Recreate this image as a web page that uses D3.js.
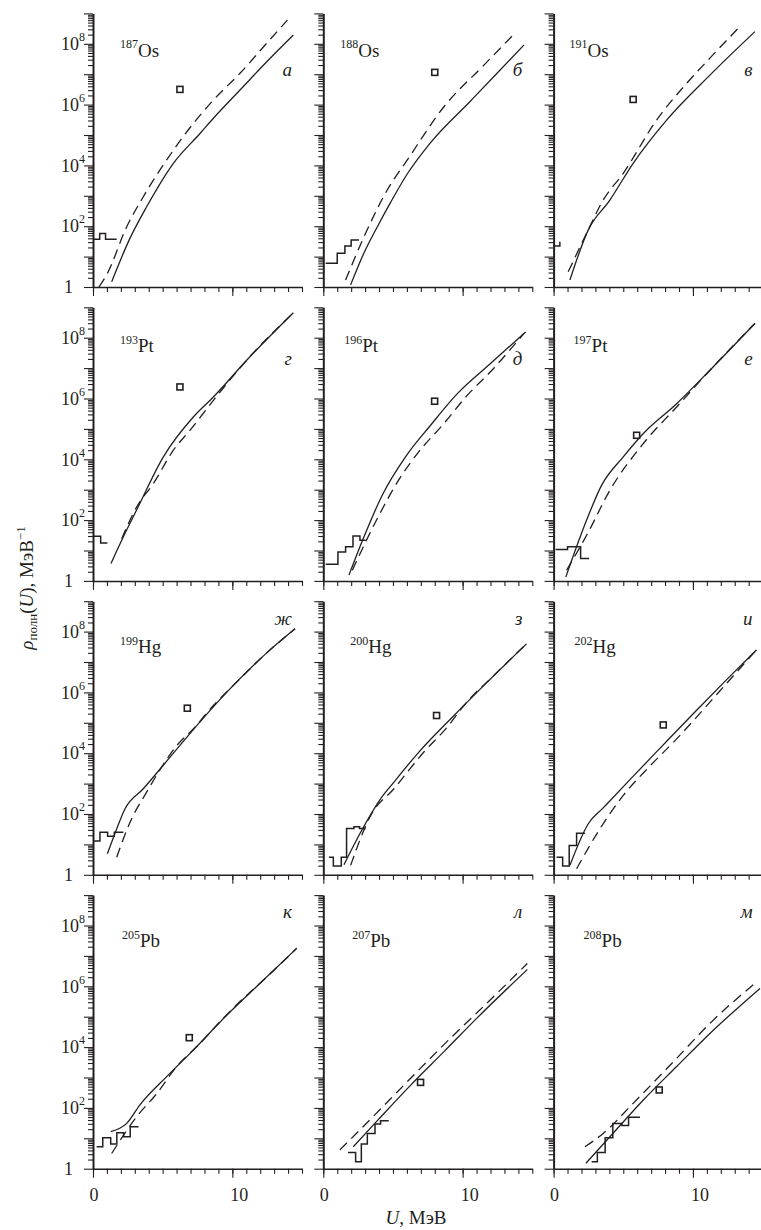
<!DOCTYPE html>
<html><head><meta charset="utf-8">
<script src="https://cdn.jsdelivr.net/npm/d3@7"></script>
<style>
body{margin:0;background:#fff}
text{font-family:"Liberation Serif","Times New Roman",serif;fill:#231f20}
</style>
</head><body>
<svg id="c" width="761" height="1230"></svg>
<script>
// ---------- data (U in MeV, values as log10 of rho) ----------
const panelLetters = ['а','б','в','г','д','е','ж','з','и','к','л','м'];
const massNumbers  = ['187','188','191','193','196','197','199','200','202','205','207','208'];
const elements     = ['Os','Os','Os','Pt','Pt','Pt','Hg','Hg','Hg','Pb','Pb','Pb'];

const solidOs187 = [[1.34,0.17],[2.6,1.55],[3.85,2.64],[5.77,4.07],[7.68,5.05],[8.64,5.55],[10.55,6.48],[12.47,7.41],[14.38,8.29]];
const dashOs187  = [[0.43,0],[0.98,0.4],[2.42,1.98],[3.61,2.97],[5.77,4.5],[7.2,5.38],[8.64,6.15],[10.55,7.03],[12.47,8.02],[13.95,8.78]];
const stepOs187  = [[0,1.57],[0.48,1.76],[0.9,1.57],[1.7,1.57]];
const markOs187  = [6.24,6.5];

const solidOs188 = [[1.96,0.07],[2.9,1.1],[3.9,2.0],[4.85,2.8],[6.0,3.7],[7.7,4.75],[10.57,6.12],[12.47,7.03],[14.4,7.96]];
const dashOs188  = [[1.6,0.23],[2.92,1.65],[4.59,3.19],[6.03,4.18],[8.66,5.93],[11.53,7.3],[13.73,8.34]];
const stepOs188  = [[0.17,0.78],[1.0,1.11],[1.55,1.35],[2.0,1.55],[2.56,1.55]];
const markOs188  = [8.0,7.06];

const solidOs191 = [[1.17,0.23],[2.49,1.88],[4.04,2.86],[5.71,4.07],[8.11,5.49],[11.22,6.97],[14.45,8.4]];
const dashOs191  = [[1.05,0.5],[2.37,1.77],[3.56,2.86],[5.0,3.74],[7.39,5.49],[9.55,6.7],[11.2,7.52],[13.25,8.51]];
const stepOs191  = [[0,1.35],[0.45,1.46],[0.5,1.46]];
const markOs191  = [5.71,6.17];

const solidPt193 = [[1.29,0.57],[2.18,1.45],[3.13,2.33],[5.05,4.08],[7.2,5.39],[8.64,6.05],[11.03,7.26],[14.38,8.82]];
const dashPt193  = [[2.06,1.39],[3.13,2.43],[4.33,3.2],[5.77,4.3],[6.97,4.96],[8.64,5.94],[11.03,7.26],[14.38,8.82]];
const stepPt193  = [[0,1.47],[0.55,1.25],[1.03,1.25]];
const markPt193  = [6.24,6.38];

const solidPt196 = [[1.84,0.19],[2.92,1.45],[4.23,2.82],[5.9,4.08],[7.7,5.12],[9.62,6.16],[12.0,7.15],[14.52,8.19]];
const dashPt196  = [[2.08,0.35],[3.75,1.94],[5.55,3.42],[6.75,4.19],[8.66,5.18],[10.34,6.11],[12.0,6.88],[14.4,8.14]];
const stepPt196  = [[0.17,0.55],[1.05,0.95],[1.6,1.12],[2.13,1.48],[2.63,1.34],[3.04,1.34]];
const markPt196  = [7.99,5.91];

const solidPt197 = [[0.88,0.13],[2.37,2.0],[3.45,3.15],[5.0,4.08],[6.44,4.85],[8.83,5.83],[11.22,6.93],[14.45,8.47]];
const dashPt197  = [[0.93,0.35],[2.37,1.5],[4.04,2.98],[6.44,4.52],[8.83,5.72],[11.22,6.93],[14.45,8.47]];
const stepPt197  = [[0.14,1.03],[1.0,1.12],[1.94,0.74],[2.55,0.74]];
const markPt197  = [5.96,4.79];

const solidHg199 = [[1.03,0.69],[1.7,1.51],[2.3,2.17],[3.61,2.83],[5.77,4.0],[7.68,5.03],[10.07,6.23],[12.47,7.3],[14.5,8.09]];
const dashHg199  = [[1.7,0.58],[2.66,1.73],[3.85,2.72],[6.01,4.25],[7.2,4.8],[8.64,5.57],[10.07,6.23],[12.47,7.3],[14.5,8.09]];
const stepHg199  = [[0.07,1.11],[0.5,1.4],[1.05,1.27],[1.53,1.4],[2.18,1.4]];
const markHg199  = [6.77,5.48];

const solidHg200 = [[1.48,0.33],[2.68,1.4],[4.11,2.5],[5.07,3.05],[6.75,3.98],[9.38,5.24],[11.53,6.23],[14.59,7.6]];
const dashHg200  = [[1.96,0.31],[3.4,1.95],[5.07,2.83],[7.22,4.04],[8.9,4.86],[10.09,5.57],[12.24,6.56],[14.59,7.6]];
const stepHg200  = [[0.4,0.58],[0.72,0.29],[1.29,0.58],[1.67,1.52],[2.2,1.58],[2.6,1.52],[3.04,1.52]];
const markHg200  = [8.13,5.24];

const solidHg202 = [[1.17,0.31],[2.49,1.68],[3.56,2.2],[5.48,3.13],[7.63,4.16],[10.02,5.3],[12.42,6.42],[14.57,7.4]];
const dashHg202  = [[1.65,0.2],[3.32,1.51],[5.0,2.61],[6.94,3.59],[8.83,4.47],[11.22,5.68],[12.42,6.3],[14.57,7.4]];
const stepHg202  = [[0.21,0.58],[0.65,0.29],[1.12,0.96],[1.65,1.37],[2.25,1.37]];
const markHg202  = [7.87,4.93];

const solidPb205 = [[1.27,1.22],[2.42,1.49],[3.37,2.1],[5.29,3.03],[7.2,3.9],[9.6,5.05],[11.99,6.1],[14.62,7.25]];
const dashPb205  = [[1.34,0.5],[3.13,1.71],[4.59,2.48],[6.0,3.36],[7.68,4.12],[9.12,4.84],[10.55,5.5],[11.99,6.1],[14.62,7.25]];
const stepPb205  = [[0.26,0.72],[0.7,1.02],[1.27,0.81],[1.71,1.18],[2.2,1.05],[2.67,1.38],[3.27,1.38]];
const markPb205  = [6.91,4.31];

const solidPb207 = [[2.15,0.72],[3.88,1.58],[6.27,2.75],[8.66,3.85],[11.06,4.97],[14.64,6.55]];
const dashPb207  = [[1.19,0.62],[2.68,1.3],[4.83,2.3],[6.75,3.2],[9.14,4.3],[11.53,5.35],[14.64,6.75]];
const stepPb207  = [[1.77,0.53],[2.32,0.23],[2.73,0.81],[3.16,1.16],[3.71,1.47],[4.11,1.58],[4.7,1.58]];
const markPb207  = [6.98,2.84];

const solidPb208 = [[2.32,0.18],[4.04,1.05],[6.44,2.26],[8.83,3.36],[11.22,4.45],[14.81,5.93]];
const dashPb208  = [[2.25,0.72],[3.56,1.16],[5.71,2.15],[8.83,3.63],[11.22,4.78],[14.45,6.1]];
const stepPb208  = [[2.73,0.23],[3.14,0.53],[3.7,1.02],[4.25,1.49],[4.9,1.42],[5.38,1.69],[6.2,1.69]];
const markPb208  = [7.58,2.59];

const xTickValues = [0,1,2,3,4,5,6,7,8,9,10,11,12,13,14,15];
const xTickLabels = [0,10];
const yLabelExponents = [0,2,4,6,8];

const panels = [
  [solidOs187,dashOs187,stepOs187,markOs187],[solidOs188,dashOs188,stepOs188,markOs188],[solidOs191,dashOs191,stepOs191,markOs191],
  [solidPt193,dashPt193,stepPt193,markPt193],[solidPt196,dashPt196,stepPt196,markPt196],[solidPt197,dashPt197,stepPt197,markPt197],
  [solidHg199,dashHg199,stepHg199,markHg199],[solidHg200,dashHg200,stepHg200,markHg200],[solidHg202,dashHg202,stepHg202,markHg202],
  [solidPb205,dashPb205,stepPb205,markPb205],[solidPb207,dashPb207,stepPb207,markPb207],[solidPb208,dashPb208,stepPb208,markPb208]
];

// ---------- layout ----------
const ink = '#231f20';
const svg = d3.select('#c');
const left0 = 93, colStep = 230.3, bottom0 = 287, rowStep = 293.9;
const W = 209, H = 273.6;
const x = d3.scaleLinear().domain([0,15]).range([0,W]);
const y = d3.scaleLog().domain([1,1e9]).range([H,0]);

const majorY = d3.range(0,10).map(k => Math.pow(10,k));
const minorY = [];
for (let k=0;k<9;k++) for (let m=2;m<=9;m++) minorY.push(m*Math.pow(10,k));

const rowLabelY = [[43,63],[45,58],[52,24],[52,23]];
const isoDx = [[27,17,16],[27,21,20],[27,27,21],[29,29,30]];

panels.forEach((p,i) => {
  const r = Math.floor(i/3), c = i%3;
  const ox = left0 + c*colStep, oy = bottom0 + r*rowStep - H;
  const g = svg.append('g').attr('transform',`translate(${ox},${oy})`);

  const styleAxis = (sel, domainW) => {
    sel.select('.domain').attr('stroke',ink).attr('stroke-width',domainW);
    sel.selectAll('.tick line').attr('stroke',ink).attr('stroke-width',1.1);
    sel.selectAll('.tick text').remove();
  };
  g.append('g').attr('transform',`translate(0,${H})`)
    .call(d3.axisBottom(x).tickValues(xTickValues).tickSize(5).tickSizeOuter(0))
    .call(s => styleAxis(s,1.5));
  g.append('g').attr('transform',`translate(0,${H})`)
    .call(d3.axisBottom(x).tickValues([0,10]).tickSize(9).tickSizeOuter(0))
    .call(s => { styleAxis(s,1.5); s.select('.domain').remove(); });
  g.append('g')
    .call(d3.axisLeft(y).tickValues(minorY).tickSize(5).tickSizeOuter(0))
    .call(s => styleAxis(s,2));
  g.append('g')
    .call(d3.axisLeft(y).tickValues(majorY).tickSize(9).tickSizeOuter(0))
    .call(s => { styleAxis(s,2); s.select('.domain').remove(); });

  if (c === 0) {
    yLabelExponents.forEach(e => {
      const t = g.append('text').attr('font-size',18)
        .attr('y', y(Math.pow(10,e))).attr('dy','0.35em');
      if (e === 0) {
        t.attr('x',-20).attr('text-anchor','end').text('1');
      } else {
        t.attr('x',-8).attr('text-anchor','end');
        t.append('tspan').text('10');
        t.append('tspan').attr('font-size',12).attr('dy','-0.75em').text(e);
      }
    });
  }
  if (r === 3) {
    xTickLabels.forEach(v => {
      g.append('text').attr('font-size',18).attr('text-anchor','middle')
        .attr('x', x(v) + (v===10?7:1)).attr('y', H + 32).text(v);
    });
  }

  const smooth = d3.line().x(d => x(d[0])).y(d => y(Math.pow(10,d[1]))).curve(d3.curveMonotoneX);
  const steps  = d3.line().x(d => x(d[0])).y(d => y(Math.pow(10,d[1]))).curve(d3.curveStepAfter);
  g.append('path').datum(p[1]).attr('d', smooth)
    .attr('fill','none').attr('stroke',ink).attr('stroke-width',1.3).attr('stroke-dasharray','10,6');
  g.append('path').datum(p[0]).attr('d', smooth)
    .attr('fill','none').attr('stroke',ink).attr('stroke-width',1.3);
  g.append('path').datum(p[2]).attr('d', steps)
    .attr('fill','none').attr('stroke',ink).attr('stroke-width',1.5);
  const m = p[3];
  g.append('rect').attr('x', x(m[0])-3).attr('y', y(Math.pow(10,m[1]))-3)
    .attr('width',6).attr('height',6).attr('fill','#fff').attr('stroke',ink).attr('stroke-width',1.6);

  const iso = g.append('text').attr('x', isoDx[r][c]).attr('y', rowLabelY[r][0]).attr('font-size',19);
  iso.append('tspan').attr('font-size',12).attr('dy','-0.7em').text(massNumbers[i]);
  iso.append('tspan').attr('dy','0.45em').text(elements[i]);
  g.append('text').attr('x', 199).attr('y', rowLabelY[r][1]).attr('font-size',19)
    .attr('font-style','italic').attr('text-anchor','end').text(panelLetters[i]);
});

const yt = svg.append('text').attr('transform','translate(33,588) rotate(-90)')
  .attr('text-anchor','middle').attr('font-size',19);
yt.append('tspan').attr('font-style','italic').text('ρ');
yt.append('tspan').attr('font-size',13).attr('dy','0.3em').text('полн');
yt.append('tspan').attr('dy','-0.23em').text('(');
yt.append('tspan').attr('font-style','italic').text('U');
yt.append('tspan').text('), МэВ');
yt.append('tspan').attr('font-size',13).attr('dy','-0.55em').text('−1');

const xt = svg.append('text').attr('x',416).attr('y',1224).attr('text-anchor','middle').attr('font-size',19);
xt.append('tspan').attr('font-style','italic').text('U');
xt.append('tspan').text(', МэВ');
</script>
</body></html>
